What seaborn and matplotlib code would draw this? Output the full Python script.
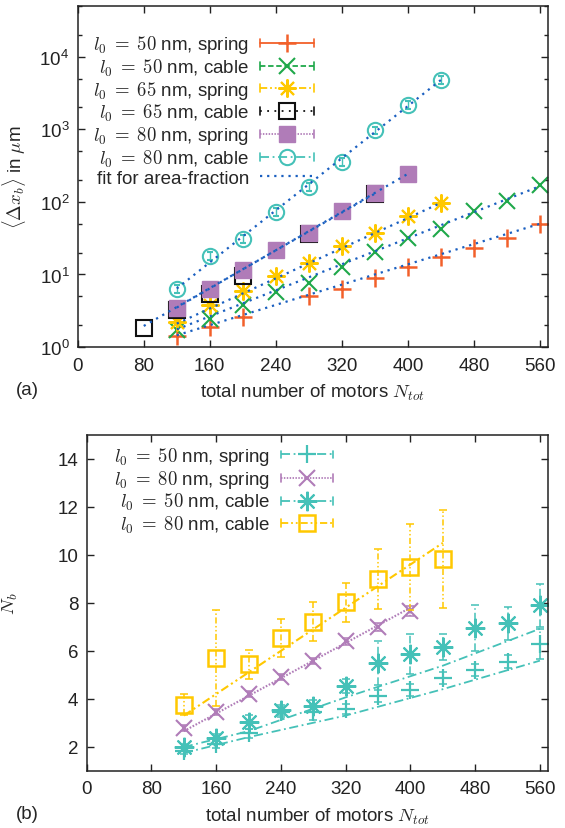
import numpy as np
import matplotlib
matplotlib.use("Agg")
import matplotlib.pyplot as plt
import seaborn as sns
from matplotlib.lines import Line2D
from matplotlib.legend_handler import HandlerLine2D
from matplotlib.ticker import LogLocator, NullFormatter, MultipleLocator

# ---------------- panel (a): mean run length <dx_b> ----------------
n_50_spring = [120, 160, 200, 280, 320, 360, 400, 440, 480, 520, 560]
dx_50_spring = [1.43, 1.9, 2.6, 5.07, 6.27, 8.88, 12.5, 17.4, 23.5, 32.2, 50.2]
n_50_cable = [120, 160, 200, 240, 280, 320, 360, 400, 440, 480, 520, 560]
dx_50_cable = [1.73, 2.4, 3.8, 5.65, 7.6, 12.5, 20.7, 31.5, 41.9, 74.8, 102, 169]
n_65_spring = [120, 160, 200, 240, 280, 320, 360, 400, 440]
dx_65_spring = [2.2, 3.8, 5.9, 9.5, 14.6, 24.7, 37.7, 63.8, 97.5]
n_65_cable = [80, 120, 160, 200, 280, 360]
dx_65_cable = [1.8, 3.2, 5.3, 9.5, 35.7, 127]
n_80_spring = [120, 160, 200, 240, 280, 320, 360, 400]
dx_80_spring = [3.5, 6.3, 11.5, 21.8, 37.7, 74.8, 134, 244]
n_80_cable = [120, 160, 200, 240, 280, 320, 360, 400, 440]
dx_80_cable = [6.4, 18, 31, 73, 162, 357, 970, 2190, 4830]

# exponential area-fraction fits (straight on log axis): start/end points
fit_a_x0 = [120, 120, 120, 80, 120, 120]
fit_a_x1 = [560, 560, 440, 360, 400, 440]
fit_a_y0 = [1.45, 1.75, 2.1, 1.95, 3.5, 6.4]
fit_a_y1 = [50, 165, 97, 130, 244, 4800]

# ---------------- panel (b): bound motors N_b ----------------
n_b = [120, 160, 200, 240, 280, 320, 360, 400, 440, 480, 520, 560]
nb_50_spring = [1.84, 2.11, 2.56, 3.45, 3.45, 3.58, 4.13, 4.38, 4.87, 5.18, 5.55, 6.29]
err_50_spring = [0.15, 0.15, 0.2, 0.2, 0.35, 0.2, 0.25, 0.25, 0.25, 0.25, 0.28, 0.62]
nb_50_cable = [1.98, 2.37, 3.02, 3.53, 3.71, 4.52, 5.48, 5.87, 6.15, 6.95, 7.15, 7.89]
err_50_cable = [0.15, 0.15, 0.3, 0.2, 0.25, 0.3, 0.92, 0.85, 0.55, 0.97, 0.68, 0.9]
n_b80 = [120, 160, 200, 240, 280, 320, 360, 400]
nb_80_spring = [2.78, 3.46, 4.20, 4.90, 5.59, 6.39, 6.99, 7.66]
err_80_spring = [0.12, 0.12, 0.12, 0.12, 0.12, 0.15, 0.15, 0.2]
n_b80c = [120, 160, 200, 240, 280, 320, 360, 400, 440]
nb_80_cable = [3.76, 5.71, 5.43, 6.54, 7.22, 8.03, 9.0, 9.49, 9.84]
err_80_cable = [0.45, 2.0, 0.6, 0.8, 0.83, 0.81, 1.26, 1.8, 2.05]

fit_b50s_x = [120, 200, 320, 440, 560]
fit_b50s_y = [1.74, 2.40, 3.30, 4.40, 5.59]
fit_b50c_x = [120, 200, 320, 440, 560]
fit_b50c_y = [1.99, 2.65, 4.06, 5.38, 6.92]
fit_b80s_x = [120, 400]
fit_b80s_y = [2.65, 7.8]
fit_b80c_x = [120, 440]
fit_b80c_y = [3.3, 10.5]

ORANGE = "#f2602a"
GREEN = "#1fa84a"
YELLOW = "#ffc800"
BLACK = "#111111"
PURPLE = "#b07cb8"
CYAN = "#45c1b8"
BLUE = "#1a5fc0"

LS_DASHDOTDOT = (0, (4, 1.6, 1, 1.6, 1, 1.6))
LS_DOT_SPARSE = (0, (1, 3))
LS_DOT_FINE = (0, (0.8, 0.8))
LS_DASHDOT = (0, (5, 2, 1, 2))
LS_FIT = (0, (1, 2.2))

FS = 13.5

sns.set_style("ticks")
plt.rcParams["font.family"] = ["Liberation Sans", "DejaVu Sans"]
plt.rcParams["mathtext.fontset"] = "cm"
plt.rcParams["font.size"] = FS
plt.rcParams["axes.edgecolor"] = "#222222"
plt.rcParams["axes.linewidth"] = 1.1


class CapHandler(HandlerLine2D):
    """gnuplot-style legend sample with error-bar caps at both ends."""
    def create_artists(self, legend, orig_handle, xdescent, ydescent,
                       width, height, fontsize, trans):
        artists = super().create_artists(legend, orig_handle, xdescent, ydescent,
                                         width, height, fontsize, trans)
        y = height / 2 - ydescent
        h = 0.3 * height
        for x in (-xdescent, width - xdescent):
            artists.append(Line2D([x, x], [y - h, y + h], color=orig_handle.get_color(),
                                  lw=1.2, transform=trans))
        return artists


def style_axes(ax):
    ax.tick_params(which="both", direction="in", top=True, right=True,
                   colors="#222222", labelcolor="#222222", labelsize=FS)
    ax.tick_params(which="major", length=5, width=1.0, pad=6)
    ax.tick_params(which="minor", length=3, width=1.0)
    ax.tick_params(axis="x", pad=7)


fig = plt.figure(figsize=(5.65, 8.29), dpi=100)
ax1 = fig.add_axes([0.1375, 0.5802, 0.833, 0.4113])
ax2 = fig.add_axes([0.1535, 0.0691, 0.8165, 0.405])

# ---- panel (a) ----
mk = dict(ls="none", ms=11, mew=1.5)
ax1.plot(n_50_spring, dx_50_spring, marker="+", color=ORANGE, ms=13, mew=1.8, ls="none")
ax1.plot(n_50_cable, dx_50_cable, marker="x", color=GREEN, **mk)
ax1.plot(n_65_spring, dx_65_spring, marker=(8, 2, 0), color=YELLOW, ms=13, mew=1.5, ls="none")
ax1.plot(n_65_cable, dx_65_cable, marker="s", color=BLACK, mfc="none", **mk)
ax1.plot(n_80_spring, dx_80_spring, marker="s", color=PURPLE, mec=PURPLE, ls="none", ms=11)
ax1.errorbar(n_80_cable, dx_80_cable, yerr=0.12 * np.array(dx_80_cable), fmt="o",
             color=CYAN, mfc="none", ms=11, mew=1.5, elinewidth=1.0, capsize=2)

for x0, x1, y0, y1 in zip(fit_a_x0, fit_a_x1, fit_a_y0, fit_a_y1):
    sns.lineplot(x=[x0, x1], y=[y0, y1], ax=ax1, color=BLUE, lw=1.6,
                 linestyle=LS_FIT, zorder=5)

ax1.set_yscale("log")
ax1.set_xlim(0, 570)
ax1.set_ylim(1, 5e4)
ax1.xaxis.set_major_locator(MultipleLocator(80))
ax1.yaxis.set_major_locator(LogLocator(base=10, numticks=10))
ax1.yaxis.set_minor_locator(LogLocator(base=10, subs=[2, 5], numticks=10))
ax1.yaxis.set_minor_formatter(NullFormatter())
style_axes(ax1)
ax1.set_xlabel(r"total number of motors $N_{tot}$", labelpad=6)
ax1.set_ylabel(r"$\langle \Delta x_b \rangle$ in $\mu$m")
ax1.yaxis.set_label_coords(-0.105, 0.5)

handles_a = [
    Line2D([], [], color=ORANGE, ls="-", lw=1.3, marker="+", ms=13, mew=1.8),
    Line2D([], [], color=GREEN, ls=(0, (3, 1.5)), lw=1.3, marker="x", ms=11, mew=1.5),
    Line2D([], [], color=YELLOW, ls=LS_DASHDOTDOT, lw=1.3, marker=(8, 2, 0), ms=13, mew=1.5),
    Line2D([], [], color=BLACK, ls=LS_DOT_SPARSE, lw=1.3, marker="s", mfc="none", ms=11, mew=1.5),
    Line2D([], [], color=PURPLE, ls=LS_DOT_FINE, lw=1.3, marker="s", ms=11),
    Line2D([], [], color=CYAN, ls=LS_DASHDOT, lw=1.3, marker="o", mfc="none", ms=11, mew=1.5),
    Line2D([], [], color=BLUE, ls=LS_FIT, lw=1.6),
]
labels_a = [r"$l_0\;=\;50$ nm, spring", r"$l_0\;=\;50$ nm, cable",
            r"$l_0\;=\;65$ nm, spring", r"$l_0\;=\;65$ nm, cable",
            r"$l_0\;=\;80$ nm, spring", r"$l_0\;=\;80$ nm, cable",
            "fit for area-fraction"]
hmap = {h: CapHandler() for h in handles_a[:-1]}
ax1.legend(handles_a, labels_a, handler_map=hmap, loc="upper right",
           bbox_to_anchor=(0.502, 0.92), markerfirst=False, frameon=False,
           borderpad=0, borderaxespad=0, handlelength=2.9, handletextpad=0.55,
           labelspacing=0.06, numpoints=1, fontsize=FS)

# ---- panel (b) ----
def eb(ax, x, y, e, marker, color, ls, **kw):
    c = ax.errorbar(x, y, yerr=e, fmt="none", ecolor=color, elinewidth=1.1,
                    capsize=3, capthick=1.1)
    c[2][0].set_linestyle(ls)
    ax.plot(x, y, ls="none", marker=marker, color=color, **kw)
    return c

eb(ax2, n_b, nb_50_spring, err_50_spring, "+", CYAN, LS_DASHDOT, ms=13, mew=1.6)
eb(ax2, n_b80, nb_80_spring, err_80_spring, "x", PURPLE, LS_DOT_FINE, ms=12, mew=1.5)
eb(ax2, n_b, nb_50_cable, err_50_cable, (8, 2, 0), CYAN, LS_DASHDOT, ms=14, mew=1.5)
eb(ax2, n_b80c, nb_80_cable, err_80_cable, "s", YELLOW, LS_DASHDOTDOT, ms=11, mew=1.8, mfc="none")

sns.lineplot(x=fit_b50s_x, y=fit_b50s_y, ax=ax2, color=CYAN, lw=1.3, linestyle=LS_DASHDOT)
sns.lineplot(x=fit_b50c_x, y=fit_b50c_y, ax=ax2, color=CYAN, lw=1.3, linestyle=LS_DASHDOT)
sns.lineplot(x=fit_b80s_x, y=fit_b80s_y, ax=ax2, color=PURPLE, lw=1.5, linestyle=LS_DOT_FINE)
sns.lineplot(x=fit_b80c_x, y=fit_b80c_y, ax=ax2, color=YELLOW, lw=1.5, linestyle=LS_DASHDOTDOT)

ax2.set_xlim(0, 570)
ax2.set_ylim(1, 15)
ax2.xaxis.set_major_locator(MultipleLocator(80))
ax2.set_yticks([2, 4, 6, 8, 10, 12, 14])
style_axes(ax2)
ax2.set_xlabel(r"total number of motors $N_{tot}$", labelpad=6)
ax2.set_ylabel(r"$N_b$")
ax2.yaxis.set_label_coords(-0.145, 0.5)

handles_b = [
    Line2D([], [], color=CYAN, ls=LS_DASHDOT, lw=1.3, marker="+", ms=13, mew=1.6),
    Line2D([], [], color=PURPLE, ls=LS_DOT_FINE, lw=1.3, marker="x", ms=12, mew=1.5),
    Line2D([], [], color=CYAN, ls=LS_DASHDOT, lw=1.3, marker=(8, 2, 0), ms=14, mew=1.5),
    Line2D([], [], color=YELLOW, ls=LS_DASHDOTDOT, lw=1.3, marker="s", mfc="none", ms=11, mew=1.8),
]
labels_b = [r"$l_0\;=\;50$ nm, spring", r"$l_0\;=\;80$ nm, spring",
            r"$l_0\;=\;50$ nm, cable", r"$l_0\;=\;80$ nm, cable"]
ax2.legend(handles_b, labels_b, handler_map={h: CapHandler() for h in handles_b},
           loc="upper right", bbox_to_anchor=(0.534, 0.97), markerfirst=False,
           frameon=False, borderpad=0, borderaxespad=0, handlelength=2.8,
           handletextpad=0.55, labelspacing=0.06, numpoints=1, fontsize=FS)

fig.text(27 / 565, 1 - 391 / 829, "(a)", ha="center", va="center", fontsize=FS)
fig.text(27 / 565, 1 - 815 / 829, "(b)", ha="center", va="center", fontsize=FS)

fig.savefig("out.png", dpi=100)
